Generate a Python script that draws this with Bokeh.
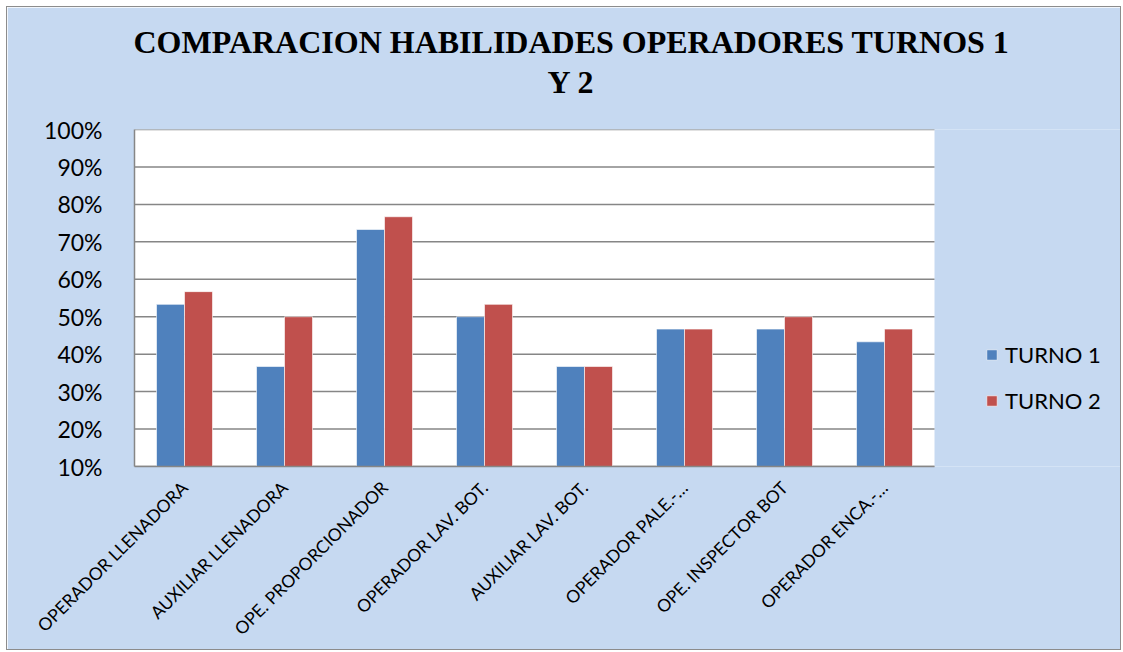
import math
from bokeh.plotting import figure
from bokeh.models import (ColumnDataSource, Range1d, FixedTicker,
                          NumeralTickFormatter, Legend, LegendItem, Title)
from bokeh.embed import file_html
from bokeh.resources import INLINE

categories = ["OPERADOR LLENADORA", "AUXILIAR LLENADORA", "OPE. PROPORCIONADOR",
              "OPERADOR LAV. BOT.", "AUXILIAR LAV. BOT.", "OPERADOR PALE.-…",
              "OPE. INSPECTOR BOT", "OPERADOR ENCA.-…"]
turno1 = [0.533, 0.367, 0.733, 0.500, 0.367, 0.467, 0.467, 0.433]
turno2 = [0.567, 0.500, 0.767, 0.533, 0.367, 0.467, 0.500, 0.467]
y_ticks = [0.1, 0.2, 0.3, 0.4, 0.5, 0.6, 0.7, 0.8, 0.9, 1.0]
title_line1 = "COMPARACION HABILIDADES OPERADORES TURNOS 1"
title_line2 = "Y 2"
series_names = ["TURNO 1", "TURNO 2"]

BG = "#C6D9F1"
BLUE = "#4F81BD"
RED = "#C0504D"
GRID = "#868686"
LABEL_FONT = "Lato"

n = len(categories)
pos = list(range(1, n + 1))
BAR_W = 0.28
src = ColumnDataSource(dict(
    x1=[v - BAR_W / 2 for v in pos], x2=[v + BAR_W / 2 for v in pos],
    t1=turno1, t2=turno2))

W, H = 1115, 644
OX, OY = 7, 7  # page offset of the plot canvas (margin + border)
LEFT = 134 - OX
frame_w = W - LEFT
p = figure(width=W, height=H, output_backend="svg", toolbar_location=None,
           x_range=Range1d(0.5, 0.5 + frame_w / 100.0),
           y_range=Range1d(y_ticks[0], y_ticks[-1]),
           min_border_left=LEFT, min_border_top=129 - OY,
           min_border_right=0, min_border_bottom=OY + H - 466)
p.background_fill_color = BG
p.border_fill_color = BG
p.outline_line_color = None
p.styles = {"border": "1px solid #8c8c8c", "margin": "6px 0 0 6px"}

# plot area (white) and horizontal gridlines, only over the category span
p.quad(left=0.5, right=n + 0.5, bottom=y_ticks[0], top=y_ticks[-1],
       fill_color="white", line_color=None)
p.segment(x0=[0.5] * len(y_ticks), x1=[n + 0.5] * len(y_ticks),
          y0=y_ticks, y1=y_ticks, line_color=GRID, line_width=1.5)

r1 = p.vbar(x="x1", top="t1", bottom=y_ticks[0], width=BAR_W, source=src,
            fill_color=BLUE, line_color="white", line_alpha=0.6, line_width=1)
r2 = p.vbar(x="x2", top="t2", bottom=y_ticks[0], width=BAR_W, source=src,
            fill_color=RED, line_color="white", line_alpha=0.6, line_width=1)

p.xgrid.grid_line_color = None
p.ygrid.grid_line_color = None

# y axis
p.yaxis.ticker = FixedTicker(ticks=y_ticks)
p.yaxis.formatter = NumeralTickFormatter(format="0%")
p.yaxis.major_tick_line_color = None
p.yaxis.minor_tick_line_color = None
p.yaxis.axis_line_color = GRID
p.yaxis.axis_line_width = 1.5
p.yaxis.major_label_text_font = LABEL_FONT
p.yaxis.major_label_text_font_size = "23px"
p.yaxis.major_label_text_color = "black"
p.yaxis.major_label_standoff = 26

# x axis (category labels)
p.xaxis.ticker = FixedTicker(ticks=pos)
p.xaxis.major_label_overrides = {v: c for v, c in zip(pos, categories)}
p.xaxis.bounds = (0.5, n + 0.5)
p.xaxis.major_label_orientation = math.pi / 4
p.xaxis.major_tick_line_color = None
p.xaxis.minor_tick_line_color = None
p.xaxis.axis_line_color = GRID
p.xaxis.axis_line_width = 1.5
p.xaxis.major_label_text_font = LABEL_FONT
p.xaxis.major_label_text_font_size = "17.5px"
p.xaxis.major_label_text_color = "black"
p.xaxis.major_label_standoff = 12

# titles
t2 = Title(text=title_line2, align="left", text_font="Liberation Serif",
           text_font_style="bold", text_font_size="32px", text_color="black",
           standoff=59, offset=413)
t1 = Title(text=title_line1, align="left", text_font="Liberation Serif",
           text_font_style="bold", text_font_size="32px", text_color="black",
           standoff=-55, offset=-1)
p.add_layout(t2, "above")
p.add_layout(t1, "above")

# legend (inside the wide frame, right of the plot area)
legend = Legend(items=[LegendItem(label=series_names[0], renderers=[r1]),
                       LegendItem(label=series_names[1], renderers=[r2])],
                location=(985 - 134, 52), orientation="vertical",
                glyph_width=13, glyph_height=13, label_height=20, spacing=19,
                padding=0, margin=0, label_standoff=7,
                label_text_font=LABEL_FONT, label_text_font_size="22px",
                label_text_color="black",
                background_fill_alpha=0, border_line_color=None)
p.add_layout(legend)

open("out.html", "w").write(file_html(p, INLINE))
